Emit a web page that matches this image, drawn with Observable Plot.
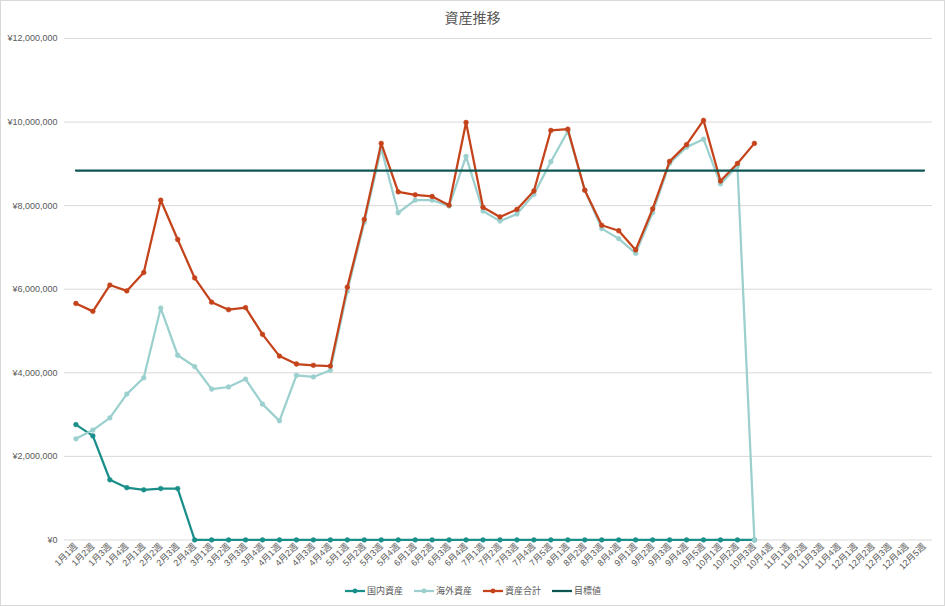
<!DOCTYPE html>
<html>
<head>
<meta charset="utf-8">
<script src="https://cdn.jsdelivr.net/npm/d3@7"></script>
<script src="https://cdn.jsdelivr.net/npm/@observablehq/plot@0.6"></script>
<style>
  html, body { margin: 0; padding: 0; background: #fff; }
  #wrap { position: relative; width: 945px; height: 606px; box-sizing: border-box; border: 1px solid #d9d9d9; overflow: hidden;
          font-family: "Liberation Sans", "Noto Sans CJK JP", sans-serif; color: #595959; }
  #title { position: absolute; left: 0; top: 6px; width: 100%; text-align: center; font-size: 14px; color: #595959; }
  #chart { position: absolute; left: -1px; top: 29px; }
  #legend { position: absolute; left: 0; top: 583px; width: 100%; display: flex; justify-content: center; gap: 10px; font-size: 9px; color: #595959; }
  .item { display: flex; align-items: center; gap: 1px; }
</style>
</head>
<body>
<div id="wrap">
  <div id="title">資産推移</div>
  <div id="chart"></div>
  <div id="legend"></div>
</div>
<script>
const weeks = ["1月1週","1月2週","1月3週","1月4週","2月1週","2月2週","2月3週","2月4週","3月1週","3月2週","3月3週","3月4週","4月1週","4月2週","4月3週","4月4週","5月1週","5月2週","5月3週","5月4週","6月1週","6月2週","6月3週","6月4週","7月1週","7月2週","7月3週","7月4週","7月5週","8月1週","8月2週","8月3週","8月4週","9月1週","9月2週","9月3週","9月4週","9月5週","10月1週","10月2週","10月3週","10月4週","11月1週","11月2週","11月3週","11月4週","12月1週","12月2週","12月3週","12月4週","12月5週"];

const domestic = [2760000, 2490000, 1440000, 1250000, 1200000, 1230000, 1230000, 0, 0, 0, 0, 0, 0, 0, 0, 0, 0, 0, 0, 0, 0, 0, 0, 0, 0, 0, 0, 0, 0, 0, 0, 0, 0, 0, 0, 0, 0, 0, 0, 0, 0];
const overseas = [2420000, 2630000, 2920000, 3490000, 3880000, 5550000, 4420000, 4150000, 3610000, 3660000, 3850000, 3250000, 2850000, 3940000, 3900000, 4060000, 5950000, 7600000, 9370000, 7830000, 8130000, 8130000, 7990000, 9180000, 7870000, 7630000, 7800000, 8270000, 9050000, 9780000, 8370000, 7450000, 7210000, 6860000, 7830000, 9010000, 9400000, 9590000, 8520000, 8950000, 0];
const total = [5660000, 5470000, 6100000, 5960000, 6400000, 8130000, 7190000, 6270000, 5690000, 5510000, 5560000, 4920000, 4400000, 4210000, 4180000, 4160000, 6050000, 7670000, 9490000, 8330000, 8260000, 8220000, 8010000, 9990000, 7960000, 7730000, 7910000, 8350000, 9800000, 9830000, 8370000, 7530000, 7400000, 6940000, 7920000, 9060000, 9460000, 10040000, 8590000, 9010000, 9490000];
const targetValue = 8840000;

const yTicks = [0, 2000000, 4000000, 6000000, 8000000, 10000000, 12000000];
const seriesNames = ["国内資産", "海外資産", "資産合計", "目標値"];
const seriesColors = ["#1a8f8a", "#9bd0ce", "#c4431b", "#0d5652"];

const rows = arr => arr.map((v, i) => ({week: weeks[i], value: v}));
const domRows = rows(domestic);
const ovRows = rows(overseas);
const totRows = rows(total);
const tgtRows = weeks.map(w => ({week: w, value: targetValue}));

const yen = d => "¥" + d3.format(",")(d);

function series(data, color, withDots) {
  const m = [Plot.line(data, {x: "week", y: "value", stroke: color, strokeWidth: 2.25, strokeLinejoin: "round", strokeLinecap: "round"})];
  if (withDots) m.push(Plot.dot(data, {x: "week", y: "value", fill: color, stroke: color, strokeWidth: 0.5, r: 2.4}));
  return m;
}

const chart = Plot.plot({
  width: 945,
  height: 552,
  marginLeft: 67,
  marginRight: 12,
  marginTop: 8,
  marginBottom: 42,
  style: {fontFamily: '"Liberation Sans", "Noto Sans CJK JP", sans-serif', fontSize: "9px", color: "#595959", background: "transparent"},
  x: {type: "point", domain: weeks, padding: 0.5, label: null, tickRotate: -45, tickSize: 0, tickPadding: 5},
  y: {domain: [0, 12000000], ticks: yTicks, tickFormat: yen, label: null, tickSize: 0, tickPadding: 10},
  marks: [
    Plot.ruleY(yTicks, {stroke: "#d9d9d9", strokeWidth: 1, insetLeft: -3}),
    ...series(domRows, seriesColors[0], true),
    ...series(ovRows, seriesColors[1], true),
    ...series(totRows, seriesColors[2], true),
    ...series(tgtRows, seriesColors[3], false)
  ]
});
document.getElementById("chart").appendChild(chart);

const legend = document.getElementById("legend");
seriesNames.forEach((name, i) => {
  const item = document.createElement("div");
  item.className = "item";
  const dot = i < 3 ? `<circle cx="11" cy="5" r="2.4" fill="${seriesColors[i]}"/>` : "";
  item.innerHTML = `<svg width="22" height="10"><line x1="1" y1="5" x2="21" y2="5" stroke="${seriesColors[i]}" stroke-width="2.25"/>${dot}</svg><span>${name}</span>`;
  legend.appendChild(item);
});
</script>
</body>
</html>
